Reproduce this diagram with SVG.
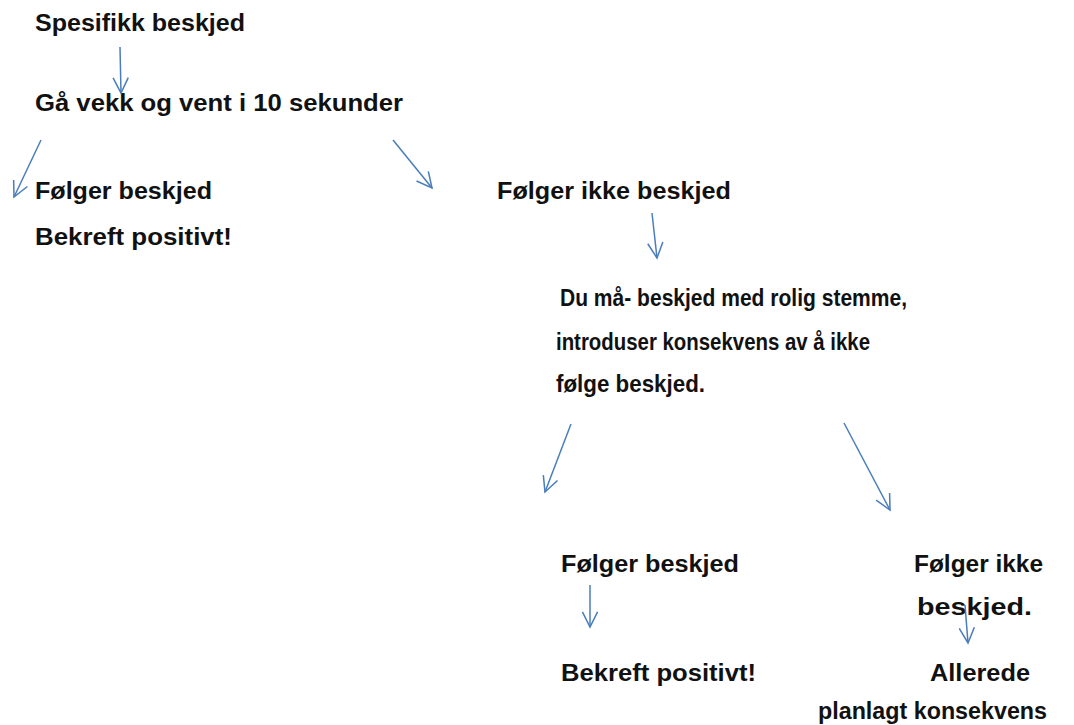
<svg xmlns="http://www.w3.org/2000/svg" width="1074" height="725" viewBox="0 0 1074 725">
<style>
.t{font-family:"Liberation Sans",Arial,sans-serif;font-weight:bold;font-size:23px;fill:#111}
.c{stroke:#4a7ebb;stroke-width:1.5;fill:none;marker-end:url(#ah)}
</style>
<defs>
<marker id="ah" viewBox="0 0 20 20" refX="18" refY="10" markerWidth="19" markerHeight="19" markerUnits="userSpaceOnUse" orient="auto">
<path d="M2,2 L18,10 L2,18" fill="none" stroke="#4a7ebb" stroke-width="1.6"/>
</marker>
</defs>
<rect width="1074" height="725" fill="#fff"/>
<g id="n1"><text class="t" x="35" y="31" textLength="210" lengthAdjust="spacingAndGlyphs">Spesifikk beskjed</text></g>
<g id="n2"><text class="t" x="35" y="111" textLength="368" lengthAdjust="spacingAndGlyphs">Gå vekk og vent i 10 sekunder</text></g>
<g id="n3"><text class="t" x="35" y="199" textLength="177" lengthAdjust="spacingAndGlyphs">Følger beskjed</text>
<text class="t" x="35" y="245" textLength="197" lengthAdjust="spacingAndGlyphs">Bekreft positivt!</text></g>
<g id="n4"><text class="t" x="497" y="199" textLength="234" lengthAdjust="spacingAndGlyphs">Følger ikke beskjed</text></g>
<g id="n5"><text class="t" x="560" y="306" textLength="347" lengthAdjust="spacingAndGlyphs">Du må- beskjed med rolig stemme,</text>
<text class="t" x="556" y="350" textLength="314" lengthAdjust="spacingAndGlyphs">introduser konsekvens av å ikke</text>
<text class="t" x="556" y="392" textLength="149" lengthAdjust="spacingAndGlyphs">følge beskjed.</text></g>
<g id="n6"><text class="t" x="561" y="572" textLength="178" lengthAdjust="spacingAndGlyphs">Følger beskjed</text></g>
<g id="n7"><text class="t" x="561" y="681" textLength="195" lengthAdjust="spacingAndGlyphs">Bekreft positivt!</text></g>
<g id="n8"><text class="t" x="914" y="572" textLength="129" lengthAdjust="spacingAndGlyphs">Følger ikke</text>
<text class="t" x="917" y="615" textLength="115" lengthAdjust="spacingAndGlyphs">beskjed.</text></g>
<g id="n9"><text class="t" x="930" y="681" textLength="100" lengthAdjust="spacingAndGlyphs">Allerede</text>
<text class="t" x="818" y="719" textLength="229" lengthAdjust="spacingAndGlyphs">planlagt konsekvens</text></g>
<g id="connectors">
<path class="c" d="M120,47 L121,93"/>
<path class="c" d="M41,140 L14,197"/>
<path class="c" d="M393,140 L432,188"/>
<path class="c" d="M652,213 L657,258"/>
<path class="c" d="M571,424 L545,492"/>
<path class="c" d="M844,423 L890,510"/>
<path class="c" d="M590,585 L590,627"/>
<path class="c" d="M965,605 L968,643"/>
</g>
</svg>
